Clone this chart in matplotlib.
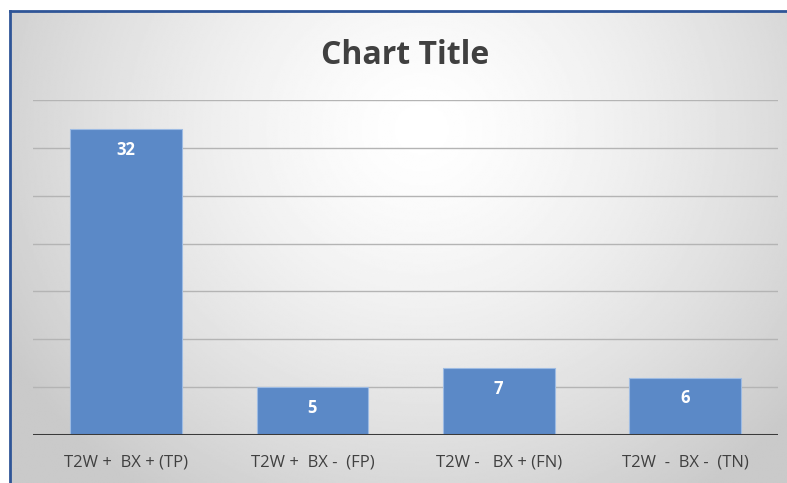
import matplotlib
matplotlib.use("Agg")
import matplotlib.pyplot as plt
import numpy as np
from matplotlib.lines import Line2D

categories = ["T2W +  BX + (TP)", "T2W +  BX -  (FP)", "T2W -   BX + (FN)", "T2W  -  BX -  (TN)"]
counts = [32, 5, 7, 6]
grid_values = [5, 10, 15, 20, 25, 30, 35]

W, H = 787, 483
fig = plt.figure(figsize=(W / 100, H / 100), dpi=100)
fig.patch.set_facecolor("white")

# soft radial background inside the frame
bg = fig.add_axes([10 / W, 0, 1 - 10 / W, (H - 11) / H])
bg.set_axis_off()
yy, xx = np.mgrid[0:1:300j, 0:1:500j]
r = np.sqrt(((xx - 0.53) / 0.62) ** 2 + ((yy - 0.25) / 0.95) ** 2)
shade = 1 - 0.21 * np.clip(r, 0, 1) ** 1.4
bg.imshow(shade, cmap="gray", vmin=0, vmax=1, aspect="auto",
          extent=[0, 1, 1, 0], interpolation="bilinear")

# frame lines on left and top
fig.add_artist(Line2D([10 / W, 10 / W], [0, (H - 11) / H], color="#2f5597", lw=2))
fig.add_artist(Line2D([10 / W, 1], [(H - 11) / H, (H - 11) / H], color="#2f5597", lw=2))

ax = fig.add_axes([33 / W, (H - 435) / H, (778 - 33) / W, (435 - 100) / H])
ax.patch.set_alpha(0)
x = np.arange(len(categories))
bars = ax.bar(x, counts, width=0.6, color="#5b89c7", edgecolor="#9dbbe3", linewidth=0.8, zorder=3)
ax.set_xlim(-0.5, len(categories) - 0.5)
ax.set_ylim(0, 35)

for g in grid_values:
    ax.axhline(g, color="#b4b4b4", lw=1, zorder=1)
ax.axhline(0, color="#3a3a3a", lw=2.2, zorder=4)

for rect, v in zip(bars, counts):
    ax.annotate(str(v), (rect.get_x() + rect.get_width() / 2, v),
                xytext=(0, -15), textcoords="offset points",
                ha="center", va="center", color="white", fontsize=12,
                fontweight="bold", family="Open Sans", zorder=5)

ax.set_xticks(x)
ax.set_xticklabels(categories, fontsize=12, color="#404040", family="Open Sans")
ax.tick_params(axis="x", length=0, pad=14)
ax.set_yticks([])
for s in ax.spines.values():
    s.set_visible(False)

fig.text(405 / W, 1 - 55 / H, "Chart Title", ha="center", va="center",
         fontsize=23, fontweight="bold", color="#404040", family="Open Sans")

fig.savefig("out.png", dpi=100)
